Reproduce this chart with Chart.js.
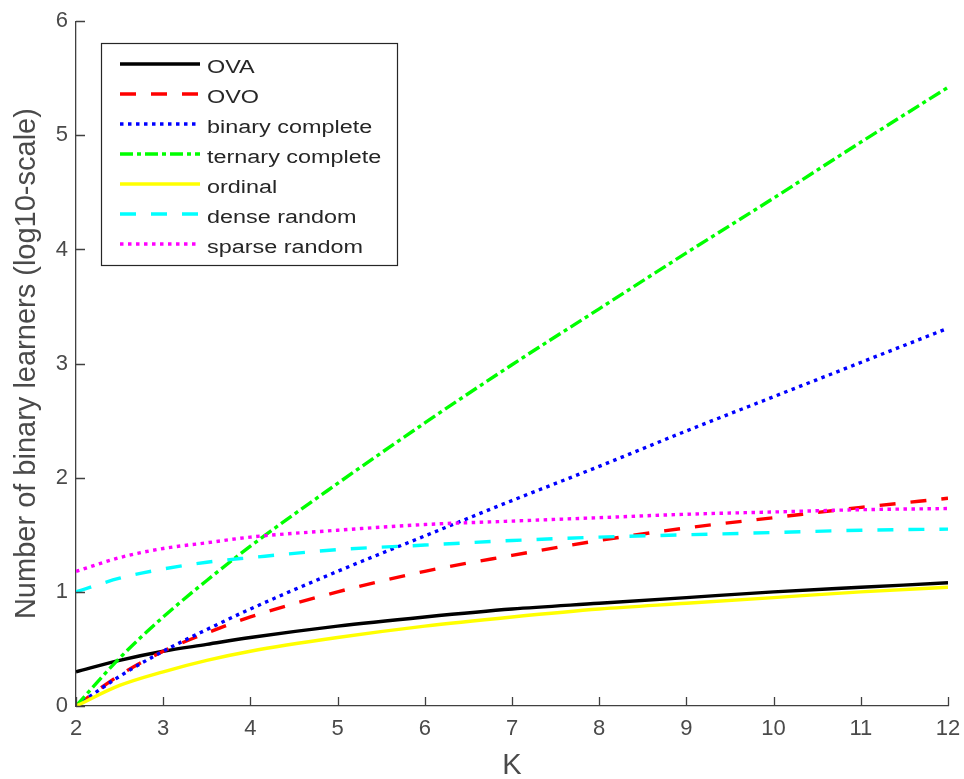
<!DOCTYPE html>
<html>
<head>
<meta charset="utf-8">
<script src="https://cdn.jsdelivr.net/npm/chart.js@4"></script>
<style>
  html, body { margin: 0; padding: 0; background: #fff; }
  #wrap { width: 964px; height: 779px; }
</style>
</head>
<body>
<div id="wrap"><canvas id="chart" width="964" height="779"></canvas></div>
<script>
// K values (x positions) and log10 of the number of binary learners
const kValues = [2, 2.5, 3, 3.5, 4, 5, 6, 7, 8, 9, 10, 11, 12];
const ova = [0.30, 0.40, 0.48, 0.54, 0.60, 0.70, 0.78, 0.85, 0.90, 0.95, 1.00, 1.04, 1.08];
const ovo = [0.00, 0.27, 0.48, 0.64, 0.78, 1.00, 1.18, 1.32, 1.45, 1.56, 1.65, 1.74, 1.82];
const binaryComplete = [0.00, 0.26, 0.48, 0.67, 0.85, 1.18, 1.49, 1.80, 2.10, 2.41, 2.71, 3.01, 3.31];
const ternaryComplete = [0.00, 0.42, 0.78, 1.10, 1.40, 1.95, 2.48, 2.99, 3.48, 3.97, 4.45, 4.94, 5.42];
const ordinal = [0.00, 0.18, 0.30, 0.40, 0.48, 0.60, 0.70, 0.78, 0.85, 0.90, 0.95, 1.00, 1.04];
const denseRandom = [1.00, 1.12, 1.20, 1.26, 1.30, 1.37, 1.41, 1.45, 1.48, 1.50, 1.52, 1.54, 1.55];
const sparseRandom = [1.18, 1.30, 1.38, 1.43, 1.48, 1.54, 1.59, 1.62, 1.65, 1.68, 1.70, 1.72, 1.73];

const xTicks = [2, 3, 4, 5, 6, 7, 8, 9, 10, 11, 12];
const yTicks = [0, 1, 2, 3, 4, 5, 6];

const FONT = '"Liberation Sans", Arial, Helvetica, sans-serif';
const AXIS_COLOR = '#404040';
const TEXT_COLOR = '#4a4a4a';

const DASH = [16, 15];
const DOT = [3.5, 4.5];
const DASH_DOT = [13, 4, 4, 4];

const series = [
  { label: 'OVA', data: ova, color: '#000000', dash: [] },
  { label: 'OVO', data: ovo, color: '#ff0000', dash: DASH },
  { label: 'binary complete', data: binaryComplete, color: '#0000ff', dash: DOT },
  { label: 'ternary complete', data: ternaryComplete, color: '#00ff00', dash: DASH_DOT },
  { label: 'ordinal', data: ordinal, color: '#ffff00', dash: [] },
  { label: 'dense random', data: denseRandom, color: '#00ffff', dash: DASH },
  { label: 'sparse random', data: sparseRandom, color: '#ff00ff', dash: DOT }
];

const datasets = series.map((s, i) => ({
  label: s.label,
  data: kValues.map((k, j) => ({ x: k, y: s.data[j] })),
  borderColor: s.color,
  backgroundColor: s.color,
  borderDash: s.dash,
  borderWidth: 3.4,
  pointRadius: 0,
  cubicInterpolationMode: 'monotone',
  order: series.length - i
}));

// inward ticks like the original figure
const inwardTicks = {
  id: 'inwardTicks',
  afterDraw(chart) {
    const { ctx, chartArea, scales } = chart;
    ctx.save();
    ctx.strokeStyle = AXIS_COLOR;
    ctx.lineWidth = 1.3;
    ctx.beginPath();
    xTicks.forEach(v => {
      const px = Math.round(scales.x.getPixelForValue(v)) + 0.5;
      ctx.moveTo(px, chartArea.bottom);
      ctx.lineTo(px, chartArea.bottom - 9);
    });
    yTicks.forEach(v => {
      const py = Math.round(scales.y.getPixelForValue(v)) + 0.5;
      ctx.moveTo(chartArea.left, py);
      ctx.lineTo(chartArea.left + 9, py);
    });
    ctx.stroke();
    ctx.restore();
  }
};

// boxed legend in the upper left corner
const boxLegend = {
  id: 'boxLegend',
  afterDraw(chart) {
    const { ctx } = chart;
    const box = { x: 101, y: 43, w: 296, h: 222 };
    ctx.save();
    ctx.fillStyle = '#fff';
    ctx.fillRect(box.x, box.y, box.w, box.h);
    ctx.strokeStyle = '#262626';
    ctx.lineWidth = 1.2;
    ctx.strokeRect(box.x + 0.5, box.y + 0.5, box.w, box.h);
    ctx.font = '18px ' + FONT;
    ctx.textBaseline = 'alphabetic';
    chart.data.datasets.forEach((ds, i) => {
      const y = 64 + i * 30;
      ctx.strokeStyle = ds.borderColor;
      ctx.lineWidth = 3.4;
      ctx.setLineDash(ds.borderDash);
      ctx.beginPath();
      ctx.moveTo(120, y);
      ctx.lineTo(200, y);
      ctx.stroke();
      ctx.setLineDash([]);
      ctx.fillStyle = '#262626';
      ctx.save();
      ctx.translate(207, y + 9);
      ctx.scale(1.3, 1);
      ctx.fillText(ds.label, 0, 0);
      ctx.restore();
    });
    ctx.restore();
  }
};

new Chart(document.getElementById('chart'), {
  type: 'line',
  data: { datasets },
  plugins: [inwardTicks, boxLegend],
  options: {
    responsive: false,
    animation: false,
    layout: { padding: { top: 20, right: 16, left: 0, bottom: 0 } },
    plugins: { legend: { display: false }, tooltip: { enabled: false } },
    scales: {
      x: {
        type: 'linear',
        min: 2,
        max: 12,
        afterFit: scale => { scale.height = 73; scale.paddingRight = 0; scale.paddingLeft = 0; },
        afterBuildTicks: scale => { scale.ticks = xTicks.map(v => ({ value: v })); },
        grid: { display: false, drawTicks: false },
        border: { display: true, color: AXIS_COLOR, width: 1.3 },
        ticks: { color: TEXT_COLOR, font: { family: FONT, size: 22 }, padding: 10, maxRotation: 0 },
        title: { display: true, text: 'K', color: TEXT_COLOR, font: { family: FONT, size: 29, lineHeight: 0.9 }, padding: { top: 0, bottom: 0 } }
      },
      y: {
        min: 0,
        max: 6,
        afterFit: scale => { scale.width = 76; },
        afterBuildTicks: scale => { scale.ticks = yTicks.map(v => ({ value: v })); },
        grid: { display: false, drawTicks: false },
        border: { display: true, color: AXIS_COLOR, width: 1.3 },
        ticks: { color: TEXT_COLOR, font: { family: FONT, size: 22 }, padding: 8 },
        title: { display: true, text: 'Number of binary learners (log10-scale)', color: TEXT_COLOR, font: { family: FONT, size: 29, lineHeight: 0.9 }, padding: { top: 14, bottom: 0 } }
      }
    }
  }
});
</script>
</body>
</html>
